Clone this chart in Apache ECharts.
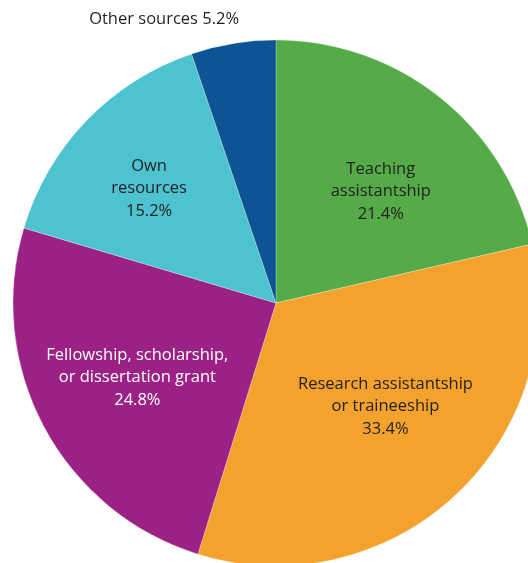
<!DOCTYPE html>
<html>
<head>
<meta charset="utf-8">
<script src="https://cdn.jsdelivr.net/npm/echarts@6/dist/echarts.min.js"></script>
<style>
  html, body { margin: 0; padding: 0; background: #ffffff; }
  #chart { width: 528px; height: 563px; }
</style>
</head>
<body>
<div id="chart"></div>
<script>
// Sources of graduate student support (share of students, %)
const categories = [
  'Teaching\nassistantship',
  'Research assistantship\nor traineeship',
  'Fellowship, scholarship,\nor dissertation grant',
  'Own\nresources',
  'Other sources'
];
const shares = [21.4, 33.4, 24.8, 15.2, 5.2];
const colors = ['#55ab47', '#f4a22e', '#9c2184', '#4dc3d0', '#0c5494'];
const textColors = ['#231f20', '#231f20', '#ffffff', '#231f20', '#231f20'];
// Nudges for each label away from its default in-slice spot
const labelShift = [[21, -6], [18, 5], [-20, 11], [-30, -21], [-90, -151]];

const chart = echarts.init(document.getElementById('chart'));

const data = categories.map((name, i) => ({
  name: name,
  value: shares[i],
  itemStyle: { color: colors[i] },
  label: {
    color: textColors[i],
    formatter: i === 4 ? '{b} {c}%' : '{b}\n{c}%'
  }
}));

chart.setOption({
  animation: false,
  series: [{
    type: 'pie',
    center: [276, 303],
    radius: [0, 263],
    startAngle: 90,
    clockwise: true,
    data: data,
    itemStyle: { borderColor: 'rgba(255,255,255,0.45)', borderWidth: 0.6 },
    label: {
      show: true,
      position: 'inside',
      fontFamily: 'Open Sans',
      fontSize: 16.5,
      lineHeight: 22.5,
      align: 'center'
    },
    labelLine: { show: false },
    labelLayout: function (params) {
      const s = labelShift[params.dataIndex];
      return { dx: s[0], dy: s[1] };
    },
    emphasis: { disabled: true }
  }]
});
</script>
</body>
</html>
